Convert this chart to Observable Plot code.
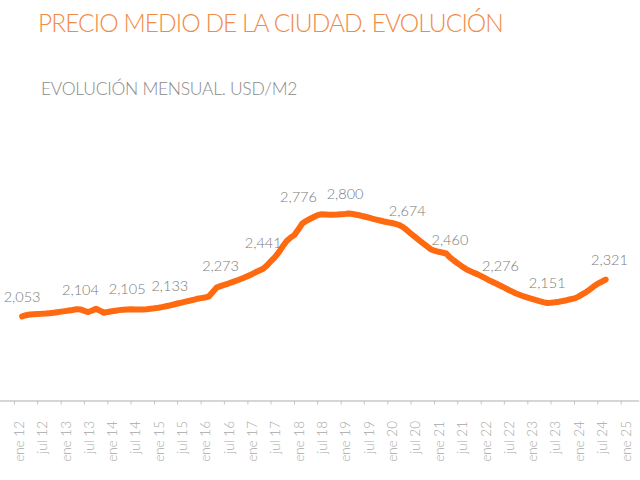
<!DOCTYPE html>
<html>
<head>
<meta charset="utf-8">
<script src="https://cdn.jsdelivr.net/npm/d3@7"></script>
<script src="https://cdn.jsdelivr.net/npm/@observablehq/plot@0.6"></script>
<style>
  html, body { margin: 0; padding: 0; background: #ffffff; }
  body { width: 640px; height: 480px; overflow: hidden; font-family: Lato, "Open Sans", sans-serif; }
  #header { position: relative; height: 110px; }
  #title { position: absolute; left: 38px; top: 10px; font-size: 24.5px; line-height: 26px; letter-spacing: -0.92px; font-weight: 300; color: #ef8c4a; white-space: nowrap; }
  #subtitle { position: absolute; left: 41px; top: 79px; font-size: 17.5px; line-height: 19px; letter-spacing: -0.3px; font-weight: 300; color: #8a8a8a; white-space: nowrap; }
  #chart svg { display: block; }
</style>
</head>
<body>
<div id="header">
  <div id="title">PRECIO MEDIO DE LA CIUDAD. EVOLUCIÓN</div>
  <div id="subtitle">EVOLUCIÓN MENSUAL. USD/M2</div>
</div>
<div id="chart"></div>
<script>
// Monthly average price (USD/m2), March 2012 to September 2024
const startYear = 2012;
const startMonth = 2; // March (0-based)
const priceValues = [
  2053, 2062, 2067, 2069, 2071, 2072, 2074, 2077, 2080, 2084,
  2088, 2092, 2096, 2100, 2106, 2104, 2094, 2085, 2096, 2109,
  2095, 2080, 2086, 2091, 2095, 2099, 2102, 2104, 2105, 2104,
  2104, 2104, 2106, 2109, 2112, 2116, 2121, 2127, 2133, 2140,
  2147, 2154, 2161, 2167, 2174, 2181, 2186, 2190, 2198, 2230,
  2262, 2273, 2283, 2292, 2302, 2312, 2323, 2334, 2347, 2360,
  2373, 2386, 2399, 2425, 2455, 2484, 2520, 2562, 2600, 2625,
  2645, 2685, 2725, 2745, 2760, 2774, 2788, 2794, 2793, 2791,
  2790, 2792, 2795, 2797, 2800, 2796, 2791, 2785, 2778, 2771,
  2763, 2756, 2749, 2742, 2736, 2731, 2724, 2716, 2700, 2677,
  2653, 2630, 2607, 2585, 2563, 2541, 2530, 2522, 2517, 2510,
  2482, 2459, 2438, 2418, 2399, 2384, 2371, 2360, 2346, 2331,
  2317, 2303, 2290, 2276, 2262, 2247, 2233, 2220, 2209, 2198,
  2189, 2181, 2173, 2165, 2157, 2151, 2153, 2156, 2160, 2165,
  2171, 2178, 2184, 2197, 2213, 2229, 2250, 2272, 2291, 2305,
  2321
];

// Annotated values and the month (YYYY-MM) they are shown at
const labelValues = [2053, 2104, 2105, 2133, 2273, 2441, 2776, 2800, 2674, 2460, 2276, 2151, 2321];
const labelMonths = ["2012-03", "2013-06", "2014-06", "2015-05", "2016-06", "2017-05", "2018-02",
                     "2019-02", "2020-06", "2021-05", "2022-06", "2023-06", "2024-10"];

// X axis tick labels, every six months from January 2012
const tickLabels = [
  "ene 12", "jul 12", "ene 13", "jul 13", "ene 14", "jul 14", "ene 15", "jul 15",
  "ene 16", "jul 16", "ene 17", "jul 17", "ene 18", "jul 18", "ene 19", "jul 19",
  "ene 20", "jul 20", "ene 21", "jul 21", "ene 22", "jul 22", "ene 23", "jul 23",
  "ene 24", "jul 24", "ene 25"
];

const series = priceValues.map((v, i) => ({date: new Date(Date.UTC(startYear, startMonth + i, 1)), value: v}));
const labels = labelValues.map((v, i) => ({date: new Date(labelMonths[i] + "-01T00:00:00Z"), value: v}));
const ticks = tickLabels.map((t, i) => ({date: new Date(Date.UTC(2012, 6 * i, 1)), label: t}));

const fmt = d3.format(",");

const chart = Plot.plot({
  width: 640,
  height: 370,
  marginLeft: 0,
  marginRight: 2,
  marginTop: 75.4,
  marginBottom: 79.5,
  style: {fontFamily: "Lato, 'Open Sans', sans-serif", background: "#ffffff"},
  x: {type: "utc", domain: [new Date("2011-09-14T00:00:00Z"), new Date("2025-05-16T00:00:00Z")], axis: null},
  y: {domain: [1440, 3000], axis: null},
  marks: [
    Plot.axisX(ticks.map(d => d.date), {tickSize: 4, tickFormat: () => "", stroke: "#c4c4c4", strokeWidth: 1}),
    Plot.frame({anchor: "bottom", stroke: "#c8c8c8", strokeWidth: 1.5}),
    Plot.text(ticks, {
      x: "date", text: "label", frameAnchor: "bottom", rotate: -90,
      textAnchor: "end", lineAnchor: "middle", dy: 20, dx: 5,
      fill: "#a8a8a8", fontSize: 13.5, fontWeight: 300
    }),
    Plot.line(series, {x: "date", y: "value", stroke: "#ff6a10", strokeWidth: 6, strokeLinecap: "round", strokeLinejoin: "round"}),
    Plot.text(labels, {
      x: "date", y: "value", text: d => fmt(d.value), dy: -19.5, lineAnchor: "middle",
      fill: "#7a7a7a", fontSize: 14.5, fontWeight: 300
    })
  ]
});
document.getElementById("chart").appendChild(chart);
</script>
</body>
</html>
